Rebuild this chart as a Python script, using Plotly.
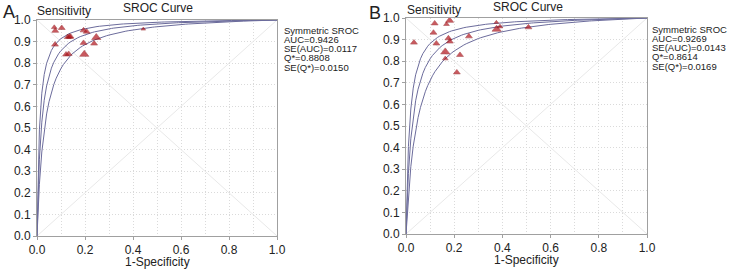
import numpy as np
import plotly.graph_objects as go

# ---------------- data ----------------
# Panel A study points (1-specificity, sensitivity, relative weight)
a_fpr  = [0.072, 0.076, 0.103, 0.194, 0.207, 0.128, 0.135, 0.140, 0.075, 0.194, 0.247, 0.238, 0.121, 0.132, 0.197, 0.443]
a_sens = [0.966, 0.950, 0.963, 0.952, 0.946, 0.921, 0.923, 0.923, 0.886, 0.894, 0.919, 0.891, 0.840, 0.843, 0.841, 0.958]
a_wt   = [5, 6, 6, 6, 6, 6, 6, 6, 6, 6, 8, 6, 6, 6, 8, 4]

# Panel B study points
b_fpr  = [0.033, 0.119, 0.114, 0.168, 0.181, 0.126, 0.176, 0.182, 0.163, 0.163, 0.224, 0.211, 0.261, 0.375, 0.376, 0.390, 0.508]
b_sens = [0.886, 0.975, 0.932, 0.971, 0.988, 0.882, 0.906, 0.891, 0.843, 0.812, 0.829, 0.748, 0.915, 0.980, 0.948, 0.960, 0.957]
b_wt   = [6, 6, 6, 5, 7, 6, 6, 6, 8, 5, 6, 6, 6, 4, 8, 5, 6]

# Summary statistics printed on the chart
a_stats = ["Symmetric SROC", "AUC=0.9426", "SE(AUC)=0.0117", "Q*=0.8808", "SE(Q*)=0.0150"]
b_stats = ["Symmetric SROC", "AUC=0.9269", "SE(AUC)=0.0143", "Q*=0.8614", "SE(Q*)=0.0169"]
a_q, a_se = 0.8808, 0.0150
b_q, b_se = 0.8614, 0.0169

x_ticks = [0.0, 0.2, 0.4, 0.6, 0.8, 1.0]
y_ticks = [0.0, 0.1, 0.2, 0.3, 0.4, 0.5, 0.6, 0.7, 0.8, 0.9, 1.0]

# ---------------- SROC (Moses symmetric) model curves ----------------
grid = np.round(np.arange(0, 1.0001, 0.01), 2)

def log_dor(q):
    return 2 * np.log(q / (1 - q))

def curve(a):
    x = grid
    safe = np.clip(x, 1e-9, 1 - 1e-9)
    odds = np.exp(a) * safe / (1 - safe)
    y = odds / (1 + odds)
    y = np.where(x <= 0, 0.0, y)
    y = np.where(x >= 1, 1.0, y)
    return y

def curves(q, se):
    a = log_dor(q)
    se_a = se / (q * (1 - q) / 2)
    return [curve(a - 1.96 * se_a), curve(a), curve(a + 1.96 * se_a)]

FONT = "Liberation Sans, Arial, sans-serif"
TXT = "#222222"
CURVE = "#6c6c9c"
MARK = "#b3141c"
GRID = "#dadada"
DASH = "1px,2px"

fig = go.Figure()

panels = [
    dict(xa="x", ya="y", fpr=a_fpr, sens=a_sens, wt=a_wt, q=a_q, se=a_se),
    dict(xa="x2", ya="y2", fpr=b_fpr, sens=b_sens, wt=b_wt, q=b_q, se=b_se),
]

for p in panels:
    fig.add_trace(go.Scatter(x=[0, 1], y=[0, 1], mode="lines", line=dict(color="#e8e8e8", width=1),
                             xaxis=p["xa"], yaxis=p["ya"], hoverinfo="skip", showlegend=False))
    fig.add_trace(go.Scatter(x=[0, 1], y=[1, 0], mode="lines", line=dict(color="#e8e8e8", width=1),
                             xaxis=p["xa"], yaxis=p["ya"], hoverinfo="skip", showlegend=False))
    for yc in curves(p["q"], p["se"]):
        fig.add_trace(go.Scatter(x=grid, y=yc, mode="lines", line=dict(color=CURVE, width=1),
                                 xaxis=p["xa"], yaxis=p["ya"], showlegend=False))
    fig.add_trace(go.Scatter(x=p["fpr"], y=p["sens"], mode="markers",
                             marker=dict(symbol="triangle-up", size=p["wt"], color=MARK,
                                         line=dict(color="#8c0d12", width=0.6)),
                             xaxis=p["xa"], yaxis=p["ya"], showlegend=False, cliponaxis=False))

W, H = 730, 269
xa_dom = [37 / W, 277 / W]
xb_dom = [406 / W, 647 / W]
ya_dom = [(H - 236) / H, (H - 20) / H]
yb_dom = [(H - 234) / H, (H - 18) / H]

def xaxis(dom, anchor):
    return dict(domain=dom, anchor=anchor, range=[0, 1], tickvals=x_ticks, automargin=False,
                tickformat=".1f", showgrid=True, gridcolor=GRID, griddash=DASH, gridwidth=1,
                minor=dict(dtick=0.1, showgrid=True, gridcolor=GRID, griddash=DASH, gridwidth=1, ticks=""),
                showline=True, linecolor="#a0a0a0", linewidth=1, mirror=True,
                ticks="outside", ticklen=3, tickcolor="#a0a0a0",
                tickfont=dict(family=FONT, size=12, color=TXT), zeroline=False, fixedrange=True)

def yaxis(dom, anchor):
    return dict(domain=dom, anchor=anchor, range=[0, 1], tickvals=y_ticks, automargin=False,
                tickformat=".1f", showgrid=True, gridcolor=GRID, griddash=DASH, gridwidth=1,
                showline=True, linecolor="#a0a0a0", linewidth=1, mirror=True,
                ticks="outside", ticklen=3, tickcolor="#a0a0a0",
                tickfont=dict(family=FONT, size=12, color=TXT), zeroline=False, fixedrange=True)

fig.update_layout(
    width=W, height=H, margin=dict(l=0, r=0, t=0, b=0, autoexpand=False),
    paper_bgcolor="white", plot_bgcolor="white",
    xaxis=xaxis(xa_dom, "y"), yaxis=yaxis(ya_dom, "x"),
    xaxis2=xaxis(xb_dom, "y2"), yaxis2=yaxis(yb_dom, "x2"),
    font=dict(family=FONT, color=TXT),
)

def ann(x, y, text, size, xanchor="left", yanchor="middle"):
    fig.add_annotation(x=x / W, y=1 - y / H, xref="paper", yref="paper", text=text, showarrow=False,
                       xanchor=xanchor, yanchor=yanchor, font=dict(family=FONT, size=size, color=TXT))

# panel A texts
ann(1, 12, "A", 18)
ann(35, 11, "Sensitivity", 12)
ann(158, 8, "SROC Curve", 12, xanchor="center")
ann(157, 262, "1-Specificity", 12, xanchor="center")
for i, t in enumerate(a_stats):
    ann(282, 30 + i * 9.3, t, 9.5)

# panel B texts
ann(367, 13, "B", 18)
ann(405, 10, "Sensitivity", 12)
ann(528, 7, "SROC Curve", 12, xanchor="center")
ann(526, 260, "1-Specificity", 12, xanchor="center")
for i, t in enumerate(b_stats):
    ann(650, 29 + i * 9.3, t, 9.5)

fig.write_html("out.html", config={"displayModeBar": False},
               post_script="document.body.style.margin='0';document.body.style.overflow='hidden';")
